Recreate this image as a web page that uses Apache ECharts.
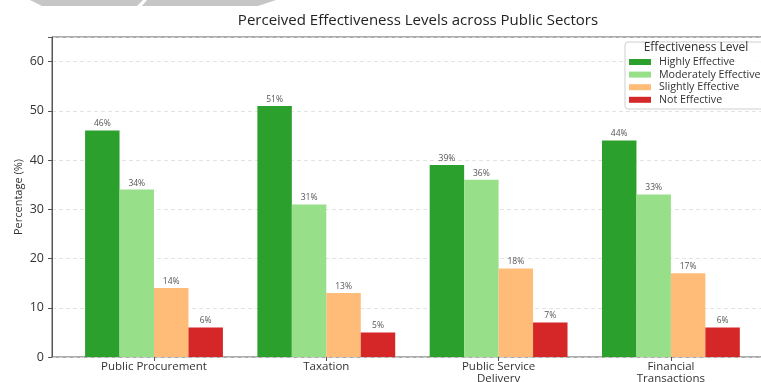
<!DOCTYPE html>
<html>
<head>
<meta charset="utf-8">
<script src="https://cdn.jsdelivr.net/npm/echarts@6/dist/echarts.min.js"></script>
<style>
  html, body { margin: 0; padding: 0; background: #fff; }
  #main { width: 761px; height: 382px; }
</style>
</head>
<body>
<div id="main"></div>
<script>
// chart data
var sectors = ['Public Procurement', 'Taxation', 'Public Service\nDelivery', 'Financial\nTransactions'];
var levelNames = ['Highly Effective', 'Moderately Effective', 'Slightly Effective', 'Not Effective'];
var highly = [46, 51, 39, 44];
var moderately = [34, 31, 36, 33];
var slightly = [14, 13, 18, 17];
var notEff = [6, 5, 7, 6];
var yTicks = [0, 10, 20, 30, 40, 50, 60];

var colors = ['#2ca02c', '#98df8a', '#ffbb78', '#d62728'];
var seriesValues = [highly, moderately, slightly, notEff];
var font = 'Open Sans, DejaVu Sans, sans-serif';

// plot frame: left 52, right edge off-screen at ~772, top 37, bottom 357
var frameLeft = 52, frameTop = 37, frameH = 320, frameW = 720;
var band = 172.3;
var barsLeft = 154 - band / 2;

var series = [];
for (var i = 0; i < levelNames.length; i++) {
  series.push({
    name: levelNames[i],
    type: 'bar',
    xAxisIndex: 1,
    yAxisIndex: 1,
    barWidth: band * 0.2,
    barGap: '0%',
    data: seriesValues[i],
    itemStyle: { color: colors[i] },
    label: {
      show: true,
      position: 'top',
      distance: 2,
      formatter: '{c}%',
      fontSize: 8.5,
      color: '#555',
      fontFamily: font
    }
  });
}

var myChart = echarts.init(document.getElementById('main'), null, { renderer: 'canvas' });
var option = {
  animation: false,
  backgroundColor: '#fff',
  textStyle: { fontFamily: font },
  title: {
    text: 'Perceived Effectiveness Levels across Public Sectors',
    left: 413,
    textAlign: 'center',
    top: 8,
    textStyle: { fontSize: 15, fontWeight: 'normal', color: '#222', fontFamily: font }
  },
  grid: [
    { left: frameLeft, top: frameTop, width: frameW, height: frameH, outerBoundsMode: 'none',
      show: true, borderColor: '#555', borderWidth: 1, backgroundColor: 'transparent' },
    { left: barsLeft, top: frameTop, width: band * 4, height: frameH, outerBoundsMode: 'none' }
  ],
  xAxis: [
    { type: 'value', gridIndex: 0, show: false, min: 0, max: 1 },
    {
      type: 'category',
      gridIndex: 1,
      data: sectors,
      axisLine: { show: false },
      axisTick: { show: true, alignWithLabel: true, length: 4, lineStyle: { color: '#555' } },
      axisLabel: { fontSize: 11.5, color: '#333', margin: 4, lineHeight: 12, fontFamily: font },
      splitLine: { show: false }
    }
  ],
  yAxis: [
    {
      type: 'value',
      gridIndex: 0,
      min: 0,
      max: 65,
      interval: 10,
      name: 'Percentage (%)',
      nameLocation: 'middle',
      nameGap: 28,
      nameMoveOverlap: false,
      nameTextStyle: { fontSize: 11, color: '#333', fontFamily: font },
      axisLine: { show: true, lineStyle: { color: '#555' } },
      axisTick: { show: true, length: 4, lineStyle: { color: '#555' } },
      axisLabel: {
        fontSize: 12.5, color: '#333', margin: 8, fontFamily: font,
        formatter: function (v) { return yTicks.indexOf(v) >= 0 ? String(v) : ''; }
      },
      splitLine: { show: true, lineStyle: { color: '#dcdcdc', type: [4, 3], width: 0.8 } }
    },
    { type: 'value', gridIndex: 1, min: 0, max: 65, show: false, splitLine: { show: false } }
  ],
  legend: {
    data: levelNames,
    orient: 'vertical',
    left: 629,
    top: 56,
    padding: 0,
    z: 20,
    itemWidth: 22,
    itemHeight: 6,
    itemGap: 0.6,
    icon: 'rect',
    selectedMode: false,
    textStyle: { fontSize: 10.7, color: '#333', lineHeight: 12, padding: [0, 0, 0, 3], fontFamily: font }
  },
  graphic: [
    {
      type: 'rect',
      shape: { x: 625, y: 42, width: 160, height: 67, r: 3 },
      style: { fill: 'rgba(255,255,255,0.85)', stroke: '#cfcfcf', lineWidth: 1 },
      z: 5
    },
    {
      type: 'text',
      x: 696,
      y: 48,
      style: { text: 'Effectiveness Level', fontSize: 12, fill: '#333', align: 'center', verticalAlign: 'middle', fontFamily: font },
      z: 6
    },
    {
      type: 'polygon',
      shape: { points: [[30, 0], [143, 0], [137, 6], [42, 6]] },
      style: { fill: '#c6c6c6' },
      z: 10
    },
    {
      type: 'polygon',
      shape: { points: [[147, 0], [276, 0], [258, 6], [142, 6]] },
      style: { fill: '#c6c6c6' },
      z: 10
    }
  ],
  series: series
};
myChart.setOption(option);
</script>
</body>
</html>
